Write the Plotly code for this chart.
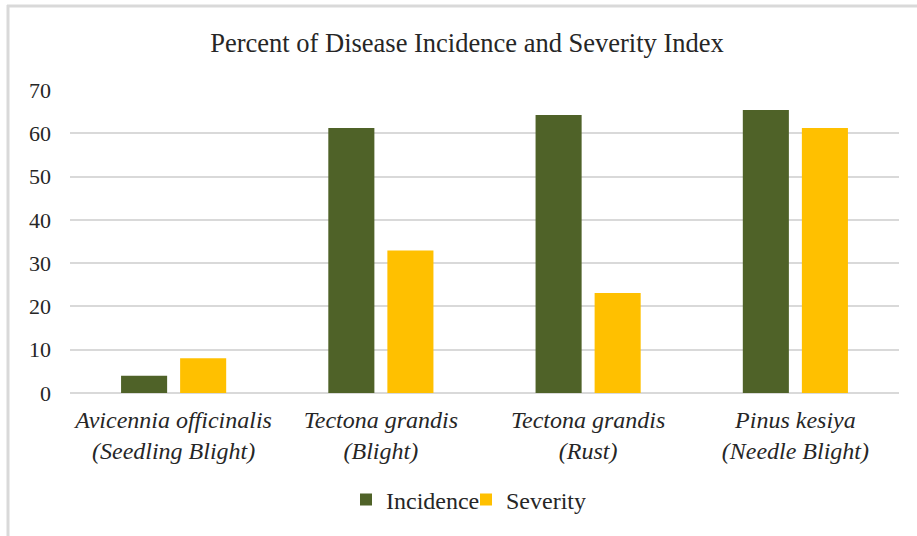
import plotly.graph_objects as go

# Disease categories (species + disease) and measured percentages
species = ["Avicennia officinalis", "Tectona grandis", "Tectona grandis", "Pinus kesiya"]
diseases = ["(Seedling Blight)", "(Blight)", "(Rust)", "(Needle Blight)"]
incidence = [4.0, 61.2, 64.2, 65.4]
severity = [8.0, 32.9, 23.1, 61.2]
y_ticks = [0, 10, 20, 30, 40, 50, 60, 70]

categories = [f"<i>{s}<br>{d}</i>" for s, d in zip(species, diseases)]

W, H = 917, 536
ML, MR, MT, MB = 70, 18, 90, 143
PW, PH = W - ML - MR, H - MT - MB

serif = "Liberation Serif"
ink = "#262626"

fig = go.Figure()
fig.add_trace(go.Bar(name="Incidence", x=categories, y=incidence,
                     marker=dict(color="#4F6228", line=dict(width=0))))
fig.add_trace(go.Bar(name="Severity", x=categories, y=severity,
                     marker=dict(color="#FFC000", line=dict(width=0))))


def px_x(p):
    return (p - ML) / PW


def px_y(p):
    return 1 - (p - MT) / PH


# thin chart frame along the top and left edges
frame = dict(color="#D9D9D9", width=3)
fig.add_shape(type="line", xref="paper", yref="paper",
              x0=px_x(7), x1=px_x(W + 5), y0=px_y(6), y1=px_y(6), line=frame)
fig.add_shape(type="line", xref="paper", yref="paper",
              x0=px_x(8), x1=px_x(8), y0=px_y(5), y1=px_y(H + 5), line=frame)

fig.update_layout(
    width=W, height=H,
    margin=dict(l=ML, r=MR, t=MT, b=MB, autoexpand=False),
    paper_bgcolor="white", plot_bgcolor="white",
    font=dict(family=serif, color=ink),
    title=dict(text="Percent of Disease Incidence and Severity Index",
               font=dict(family=serif, size=26.5, color=ink),
               x=467 / W, xref="container", xanchor="center",
               y=1 - 43 / H, yref="container", yanchor="middle"),
    barmode="group", bargap=0.43, bargroupgap=0.22,
    showlegend=True,
    legend=dict(orientation="h", xref="container", yref="container",
                x=466 / W, xanchor="center", y=1 - 500 / H, yanchor="middle",
                font=dict(family=serif, size=24, color=ink),
                itemwidth=30, tracegroupgap=0, entrywidth=75),
    xaxis=dict(showgrid=False, showline=False, ticks="",
               tickfont=dict(family=serif, size=24, color=ink),
               ticklabelstandoff=10),
    yaxis=dict(range=[0, 70], tickvals=y_ticks, showgrid=True,
               gridcolor="#D9D9D9", gridwidth=1.5, zeroline=True,
               zerolinecolor="#D9D9D9", zerolinewidth=1.5, showline=False,
               ticks="", tickfont=dict(family=serif, size=22, color=ink),
               ticklabelstandoff=18),
)

fig.write_html("out.html")
